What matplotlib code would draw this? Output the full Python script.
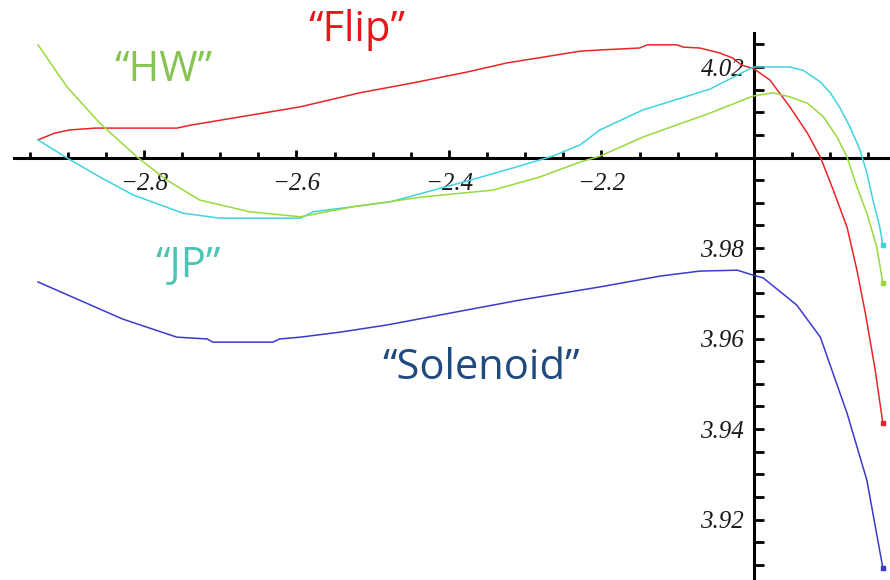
import matplotlib
matplotlib.use("Agg")
import matplotlib.pyplot as plt
from matplotlib.ticker import FixedLocator
import numpy as np

# ---- data ----
flip_x = [-2.939, -2.917, -2.897, -2.864, -2.757, -2.737, -2.595, -2.517, -2.447, -2.376,
          -2.324, -2.228, -2.198, -2.150, -2.140, -2.101, -2.093, -2.071, -2.045, -2.028,
          -2.016, -2.000, -1.979, -1.953, -1.930, -1.913, -1.896, -1.878, -1.865, -1.854,
          -1.841, -1.831]
flip_y = [4.0039, 4.0054, 4.0061, 4.0065, 4.0065, 4.0072, 4.0112, 4.0143, 4.0165, 4.0189,
          4.0209, 4.0235, 4.0238, 4.0242, 4.0249, 4.0249, 4.0244, 4.0242, 4.0231, 4.0220,
          4.0204, 4.0196, 4.0171, 4.0112, 4.0054, 4.0001, 3.9928, 3.9846, 3.9751, 3.9656,
          3.9530, 3.9413]

jp_x = [-2.939, -2.901, -2.858, -2.814, -2.749, -2.701, -2.595, -2.578, -2.477, -2.372,
        -2.316, -2.264, -2.228, -2.202, -2.146, -2.058, -2.001, -1.953, -1.936, -1.913,
        -1.900, -1.887, -1.874, -1.861, -1.852, -1.844, -1.835, -1.831]
jp_y = [4.0039, 3.9999, 3.9957, 3.9917, 3.9877, 3.9866, 3.9866, 3.9880, 3.9902, 3.9950,
        3.9977, 4.0003, 4.0028, 4.0061, 4.0105, 4.0151, 4.0200, 4.0200, 4.0193, 4.0167,
        4.0143, 4.0109, 4.0067, 4.0017, 3.9966, 3.9906, 3.9846, 3.9807]

hw_x = [-2.939, -2.901, -2.858, -2.809, -2.770, -2.727, -2.661, -2.595, -2.526, -2.434,
        -2.342, -2.281, -2.228, -2.202, -2.146, -2.058, -2.001, -1.975, -1.953, -1.930,
        -1.909, -1.891, -1.878, -1.865, -1.852, -1.839, -1.831]
hw_y = [4.0249, 4.0156, 4.0076, 4.0001, 3.9950, 3.9906, 3.9880, 3.9869, 3.9891, 3.9913,
        3.9928, 3.9957, 3.9990, 4.0003, 4.0045, 4.0098, 4.0136, 4.0143, 4.0134, 4.0120,
        4.0090, 4.0045, 4.0001, 3.9935, 3.9877, 3.9802, 3.9723]

sol_x = [-2.939, -2.828, -2.757, -2.717, -2.710, -2.631, -2.622, -2.595, -2.543, -2.481,
         -2.399, -2.307, -2.202, -2.123, -2.071, -2.022, -2.001, -1.988, -1.944, -1.913,
         -1.878, -1.852, -1.831]
sol_y = [3.9725, 3.9643, 3.9603, 3.9599, 3.9592, 3.9592, 3.9599, 3.9603, 3.9614, 3.9630,
         3.9656, 3.9685, 3.9714, 3.9738, 3.9749, 3.9751, 3.9740, 3.9734, 3.9674, 3.9603,
         3.9435, 3.9287, 3.9093]

x_major = [-2.8, -2.6, -2.4, -2.2]
x_labels = ["\u22122.8", "\u22122.6", "\u22122.4", "\u22122.2"]
y_major = [3.92, 3.94, 3.96, 3.98, 4.02]
y_labels = ["3.92", "3.94", "3.96", "3.98", "4.02"]

series = [
    (flip_x, flip_y, "#e8262a"),
    (jp_x, jp_y, "#3fd3e0"),
    (hw_x, hw_y, "#99d93a"),
    (sol_x, sol_y, "#3a3acd"),
]

# ---- figure ----
fig = plt.figure(figsize=(8.9, 5.8), dpi=100)
ax = fig.add_axes([0, 0, 1, 1])
ax.set_xlim(-2.98885, -1.82164)
ax.set_ylim(3.90663, 4.03481)

for xs, ys, c in series:
    ax.plot(xs, ys, color=c, lw=1.1, zorder=3)
    ax.plot(xs[-1], ys[-1], marker="s", ms=3, color=c, zorder=3)

for s in ["top", "right"]:
    ax.spines[s].set_visible(False)
ax.spines["left"].set_position(("data", -2.0))
ax.spines["bottom"].set_position(("data", 4.0))
ax.spines["left"].set_bounds(3.90663, 4.0275)
ax.spines["bottom"].set_bounds(-2.9705, -1.82164)
for s in ["left", "bottom"]:
    ax.spines[s].set_linewidth(2.2)
    ax.spines[s].set_color("black")
    ax.spines[s].set_zorder(2)

ax.xaxis.set_major_locator(FixedLocator(x_major))
ax.set_xticklabels(x_labels)
x_minor = [v for v in np.round(np.arange(-2.95, -1.84, 0.05), 3)
           if not any(abs(v - m) < 1e-6 for m in x_major + [-2.0])]
ax.xaxis.set_minor_locator(FixedLocator(x_minor))

ax.yaxis.set_major_locator(FixedLocator(y_major))
ax.set_yticklabels(y_labels)
y_minor = [v for v in np.round(np.arange(3.91, 4.026, 0.005), 3)
           if not any(abs(v - m) < 1e-6 for m in y_major + [4.0])]
ax.yaxis.set_minor_locator(FixedLocator(y_minor))

ax.tick_params(axis="x", which="major", direction="in", length=6, width=2, pad=11)
ax.tick_params(axis="x", which="minor", direction="in", length=4, width=2)
ax.tick_params(axis="y", which="major", direction="in", length=7, width=2, pad=7)
ax.tick_params(axis="y", which="minor", direction="in", length=7, width=2)
for lab in ax.get_xticklabels() + ax.get_yticklabels():
    lab.set_fontfamily("Liberation Serif")
    lab.set_fontstyle("italic")
    lab.set_fontsize(18)
    lab.set_color("#1a1a1a")

ax.patch.set_visible(False)

label_font = "Open Sans"
fs = 30
ax.text(-2.0 + (357 - 754) / 762.5, 4.0 + (157.5 - 30) / 4525, "\u201cFlip\u201d",
        color="#e8151b", fontsize=fs, family=label_font, ha="center", va="center")
ax.text(-2.0 + (164 - 754) / 762.5, 4.0 + (157.5 - 70) / 4525, "\u201cHW\u201d",
        color="#86c350", fontsize=fs, family=label_font, ha="center", va="center")
ax.text(-2.0 + (188 - 754) / 762.5, 4.0 + (157.5 - 266) / 4525, "\u201cJP\u201d",
        color="#4cc6b4", fontsize=fs, family=label_font, ha="center", va="center")
ax.text(-2.0 + (481 - 754) / 762.5, 4.0 + (157.5 - 368) / 4525, "\u201cSolenoid\u201d",
        color="#1f4a7e", fontsize=fs, family=label_font, ha="center", va="center")

fig.savefig("out.png", dpi=100)
